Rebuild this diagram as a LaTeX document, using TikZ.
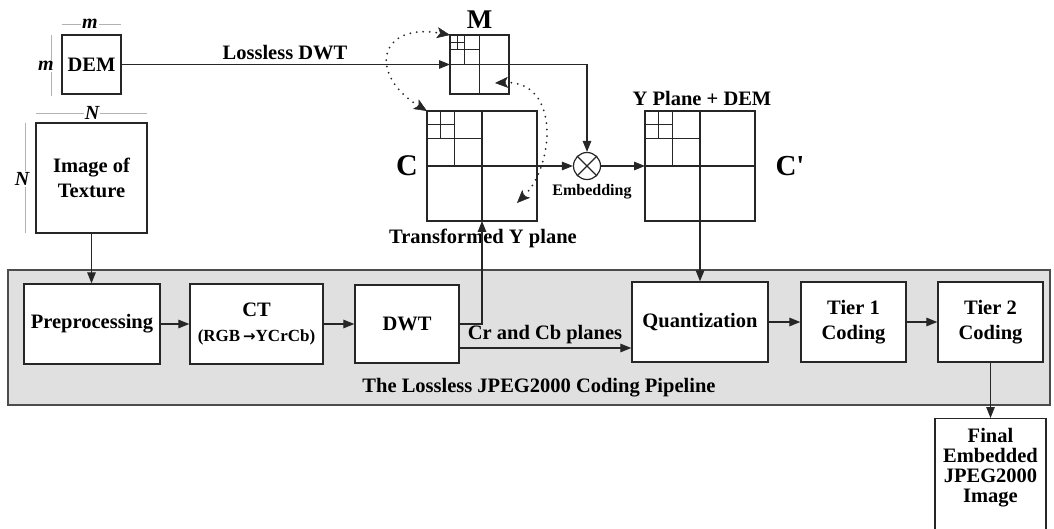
\documentclass[tikz,border=0pt]{standalone}
\usepackage{fontspec}
\setmainfont{Liberation Serif}
\newfontfamily\arrowfont{DejaVu Sans}
\usetikzlibrary{arrows.meta,calc}
\newcommand\wavegrid[2]{%
  \draw[wline] (#1.north) -- (#1.south) (#1.west) -- (#1.east)
    ($(#1.north west)+(#2*0.25,0)$) -- ++(0,#2*0.5)
    ($(#1.north west)+(0,#2*0.25)$) -- ++(#2*0.5,0)
    ($(#1.north west)+(#2*0.125,0)$) -- ++(0,#2*0.25)
    ($(#1.north west)+(0,#2*0.125)$) -- ++(#2*0.25,0);}
\begin{document}
\begin{tikzpicture}[x=1pt,y=-1pt,
  font=\fontsize{20.5}{25}\selectfont\bfseries,
  box/.style={draw=black!85, fill=white, line width=1.3pt, align=center, inner sep=0pt},
  wbox/.style={draw=black!85, line width=1.2pt, inner sep=0pt, outer sep=0pt, minimum size=#1},
  wline/.style={draw=black!85, line width=1.1pt},
  arr/.style={draw=black!85, line width=1.2pt, -{Triangle[length=11pt,width=8.5pt]}},
  dotarr/.style={draw=black!85, line width=2pt, dash pattern=on 0pt off 6.5pt, line cap=round,
     {Stealth[length=13pt,width=11pt,inset=3pt,line width=0.5pt]}-{Stealth[length=13pt,width=11pt,inset=3pt,line width=0.5pt]}},
  dim/.style={draw=black!30, line width=0.9pt},
  dimlbl/.style={fill=white, inner sep=1pt, font=\fontsize{20}{22}\selectfont\bfseries\itshape}
]
\useasboundingbox (0,0) rectangle (1054,529);
\clip (0,0) rectangle (1054,529);

% pipeline background
\node[draw=black!70, fill=black!12, line width=1.2pt, minimum width=1042pt, minimum height=135pt, inner sep=0pt] (pipe) at (529,337.5) {};
\node (pipelbl) at (539,388) {The Lossless JPEG2000 Coding Pipeline};

% top boxes
\node[box, minimum width=59pt, minimum height=59pt] (dem) at (91.5,64.5) {DEM};
\node[box, minimum width=111pt, minimum height=110pt] (tex) at (91.5,178) {Image of\\Texture};
\node[wbox=59pt] (M) at (479.5,64.5) {};
\node[wbox=110pt] (C) at (482,166) {};
\node[wbox=110pt] (Cp) at (700,166) {};
\wavegrid{M}{59}
\wavegrid{C}{110}
\wavegrid{Cp}{110}
\node[draw=black!85, circle, line width=1.2pt, minimum size=27pt, inner sep=0pt] (emb) at (587,166) {};
\draw[line width=1.2pt, black!85] (emb.north west) -- (emb.south east) (emb.north east) -- (emb.south west);

% labels
\node[font=\fontsize{27}{27}\selectfont\bfseries] (Mlbl) at (479.5,20) {M};
\node[font=\fontsize{30}{30}\selectfont\bfseries] (Clbl) at (407,166) {C};
\node[font=\fontsize{29}{29}\selectfont\bfseries] (Cplbl) at (790,166) {C\textquotesingle};
\node (tylbl) at (483,238) {Transformed Y plane};
\node (ypdlbl) at (702,98) {Y Plane + DEM};
\node[font=\fontsize{16}{18}\selectfont\bfseries] (emblbl) at (592,192) {Embedding};
\node (dwtlbl) at (285,53) {Lossless DWT};

% dimension marks
\draw[dim] (62,24) -- (121,24);
\node[dimlbl] (dm1) at (90,24) {m};
\draw[dim] (51,35) -- (51,96);
\node[dimlbl] (dm2) at (46,66) {m};
\draw[dim] (36,113) -- (147,113);
\node[dimlbl] (dn1) at (92,113) {N};
\draw[dim] (25,123) -- (25,233);
\node[dimlbl] (dn2) at (22,179) {N};

% pipeline boxes
\node[box, minimum width=136pt, minimum height=80pt] (pre) at (92,324) {Preprocessing};
\node[box, minimum width=133pt, minimum height=80pt] (ct) at (256.5,324) {CT\\{\fontsize{17}{20}\selectfont (RGB\,{\arrowfont\bfseries\fontsize{15}{20}\selectfont →}YCrCb)}};
\node[box, minimum width=104pt, minimum height=78pt] (dwt) at (407,324) {DWT};
\node[box, minimum width=136pt, minimum height=80pt] (quant) at (700,322) {Quantization};
\node[box, minimum width=105pt, minimum height=80pt] (t1) at (853.5,322) {Tier 1\\Coding};
\node[box, minimum width=105pt, minimum height=80pt] (t2) at (990.5,322) {Tier 2\\Coding};
\node[box, anchor=north, minimum width=111pt, minimum height=125pt] (final) at (990.5,418) {};
\node[align=center, anchor=north, inner sep=0pt, font=\fontsize{20.5}{20}\selectfont\bfseries] (finaltxt) at ([yshift=-10pt]final.north) {Final\\Embedded\\JPEG2000\\Image};

% connectors
\draw[arr] (dem.east) -- (M.west);
\draw[arr] (M.east) -| (emb.north);
\draw[arr] (C.east) -- (emb.west);
\draw[arr] (emb.east) -- (Cp.west);
\draw[arr] (Cp.south) -- (quant.north);
\draw[arr] (tex.south) -- (tex.south |- pre.north);
\draw[arr] (pre) -- (ct);
\draw[arr] (ct) -- (dwt);
\draw[arr] (dwt.east) -| (C.south);
\draw[arr] ([yshift=-24pt]dwt.east) coordinate (cr) -- (cr -| quant.west);
\node (crlbl) at (545,335) {Cr and Cb planes};
\draw[arr] (quant) -- (t1);
\draw[arr] (t1) -- (t2);
\draw[arr] (t2.south) -- (final.north);

% dotted curves
\coordinate (m2) at (495,83);
\coordinate (c2) at (517,203);
\draw[dotarr] (C.north west) .. controls (368,75) and (378,22) .. (M.north west);
\draw[dotarr] (m2) .. controls (560,80) and (555,165) .. (c2);
\end{tikzpicture}
\end{document}
